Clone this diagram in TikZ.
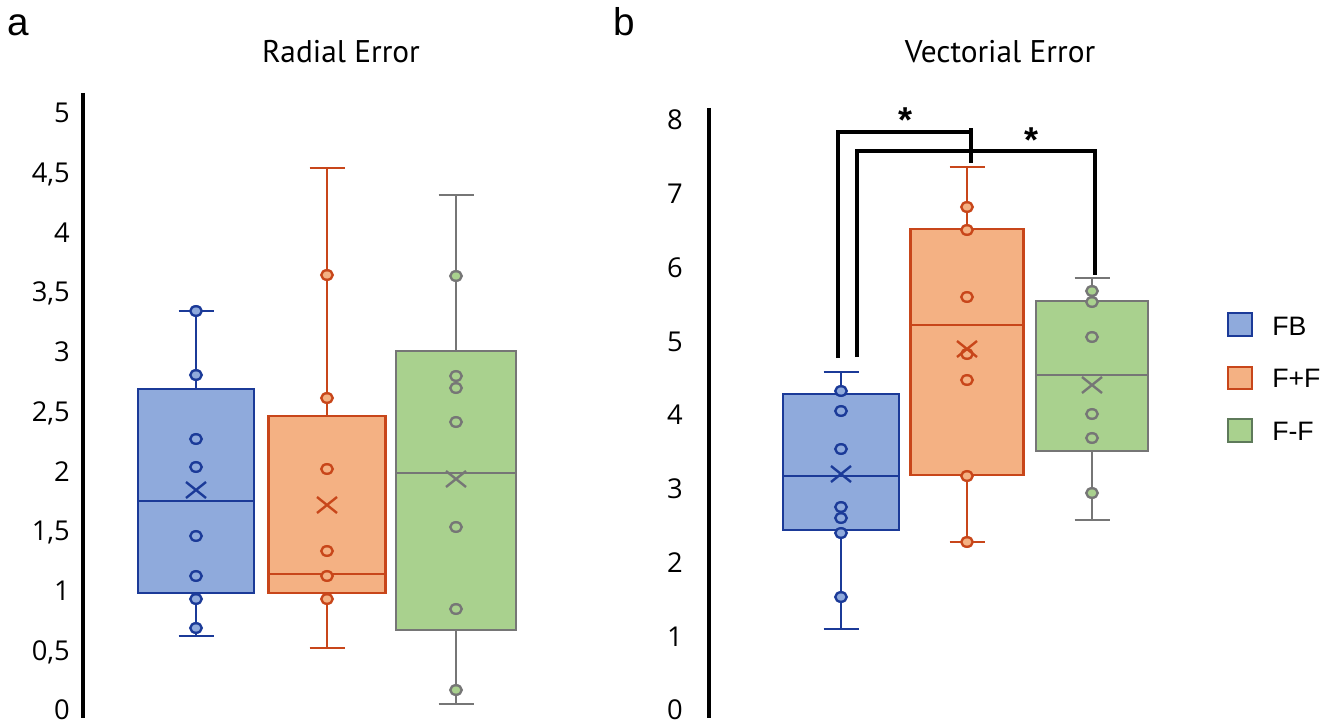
\documentclass[tikz,border=0pt]{standalone}
\usepackage{fontspec}
\setmainfont{Open Sans}
\newfontfamily\titlefont{PT Sans}
\newfontfamily\legfont{Liberation Sans}
\definecolor{bs}{HTML}{1B3A98}
\definecolor{bf}{HTML}{8FAADC}
\definecolor{os}{HTML}{C8461A}
\definecolor{of}{HTML}{F4B183}
\definecolor{gs}{HTML}{767676}
\definecolor{gf}{HTML}{A9D18E}
\definecolor{gl}{HTML}{5E7A5A}
\tikzset{
  wl/.style={line width=1.8pt},
  axisline/.style={line width=2.6pt, black},
  tick/.style={font=\fontsize{20.5}{21}\selectfont, inner sep=0pt, anchor=base east},
  ttl/.style={font=\titlefont\fontsize{23.5}{25}\selectfont, inner sep=0pt, anchor=base},
  panel/.style={font=\legfont\fontsize{29}{30}\selectfont, inner sep=0pt, anchor=base west},
  leg/.style={font=\legfont\fontsize{20}{22}\selectfont, inner sep=0pt, anchor=west},
  star/.style={font=\legfont\bfseries\fontsize{27}{27}\selectfont, inner sep=0pt},
  brk/.style={black, line join=miter},
}
% #1 colour prefix, #2 centre x, #3 half width, #4 whisker top, #5 box top,
% #6 median, #7 box bottom, #8 whisker bottom, #9 mean (X) y
\newcommand{\bxplot}[9]{%
  \draw[#1s, wl] (#2,#4) -- (#2,#8);
  \draw[#1s, wl] (#2-17.5,#4) -- (#2+17.5,#4);
  \draw[#1s, wl] (#2-17.5,#8) -- (#2+17.5,#8);
  \filldraw[draw=#1s, fill=#1f, wl] (#2-#3,#5) rectangle (#2+#3,#7);
  \draw[#1s, wl] (#2-#3,#6) -- (#2+#3,#6);
}
\newcommand{\ptsat}[3]{%
  \foreach \yy in {#3} \filldraw[draw=#1s, fill=#1f, wl] (#2,\yy) ellipse [x radius=4.3pt, y radius=3.6pt];
}
\newcommand{\meanx}[3]{%
  \draw[#1s, wl] (#2-10,#3-8) -- (#2+10,#3+8) (#2-10,#3+8) -- (#2+10,#3-8);
}
\begin{document}
\begin{tikzpicture}[x=0.75pt, y=-0.75pt]
\path[use as bounding box] (0,0) rectangle (1339,724);

% panel labels and titles
\node[panel] (pa) at (7,36) {a};
\node[panel] (pb) at (613,36) {b};
\node[ttl] (ta) at (341,63) {Radial Error};
\node[ttl] (tb) at (1000,63) {Vectorial Error};

% axes
\draw[axisline] (83,93) -- (83,718);
\draw[axisline] (709,108) -- (709,718);
\foreach \lab [count=\i from 0] in {0,{0,5},1,{1,5},2,{2,5},3,{3,5},4,{4,5},5}
  \node[tick] (ya\i) at (70,710-59.7*\i+9.8) {\lab};
\foreach \lab [count=\i from 0] in {0,1,2,3,4,5,6,7,8}
  \node[tick] (yb\i) at (683,710-73.75*\i+9.8) {\lab};

% panel a
\bxplot{b}{196}{58}{311}{389}{501}{593}{636}{490}
\ptsat{b}{196}{311,375,439,467,536,576,599,628}
\meanx{b}{196}{490}
\bxplot{o}{327}{58.5}{168}{416}{574}{593}{648}{505}
\ptsat{o}{327}{275,398,469,551,576,599}
\meanx{o}{327}{505}
\bxplot{g}{456}{60}{195}{351}{473}{630}{704}{479}
\ptsat{g}{456}{276,376,388,422,527,609,690}
\meanx{g}{456}{479}

% panel b
\bxplot{b}{841}{58}{372}{394}{476}{530}{629}{474}
\ptsat{b}{841}{391,411,449,507,518,533,597}
\meanx{b}{841}{474}
\bxplot{o}{967}{56.5}{167}{229}{325}{475}{542}{349}
\ptsat{o}{967}{207,230,297,354,380,476,542}
\meanx{o}{967}{349}
\bxplot{g}{1092}{56}{278}{301}{375}{451}{520}{385}
\ptsat{g}{1092}{291,302,337,414,438,493}
\meanx{g}{1092}{385}

% significance brackets
\coordinate (o1) at (838,358);
\coordinate (o2) at (971,132);
\coordinate (o3) at (971,128);
\coordinate (o4) at (971,163);
\coordinate (i1) at (857,357);
\coordinate (i2) at (1095,151);
\coordinate (i3) at (1095,275);
\draw[brk, line width=2.6pt] (o1) |- (o2);
\draw[brk, line width=2.6pt] (o3) -- (o4);
\draw[brk, line width=3.2pt] (i1) |- (i2) -- (i3);
\node[star] (s1) at (905,120) {*};
\node[star] (s2) at (1031,140) {*};

% legend
\filldraw[draw=bs, fill=bf, wl] (1228,313) rectangle (1252,336);
\filldraw[draw=os, fill=of, wl] (1228,367) rectangle (1252,389);
\filldraw[draw=gl, fill=gf, wl] (1228,419) rectangle (1252,442);
\node[leg] (l1) at (1272,326) {FB};
\node[leg] (l2) at (1272,378) {F+F};
\node[leg] (l3) at (1272,431) {F-F};
\end{tikzpicture}
\end{document}
